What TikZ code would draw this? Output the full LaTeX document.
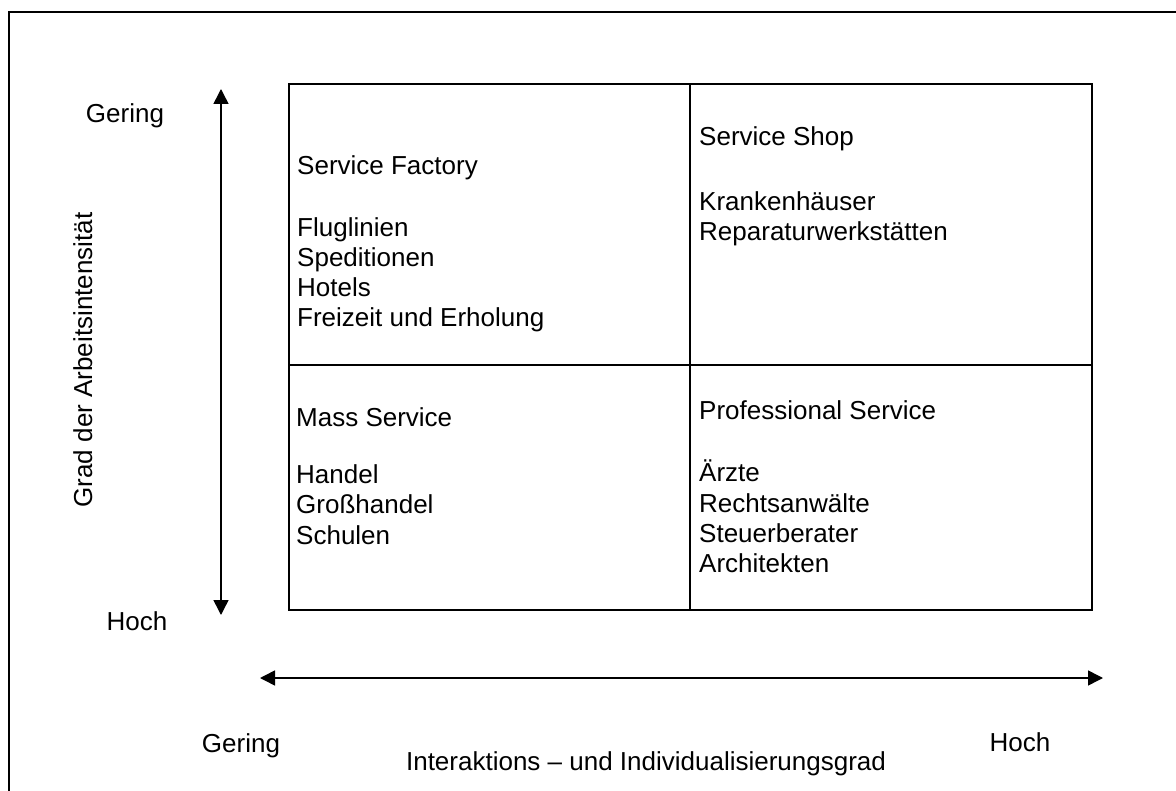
\documentclass[tikz,border=0pt]{standalone}
\usepackage{fontspec}
\setmainfont{Liberation Sans}
\usetikzlibrary{arrows.meta}

\begin{document}
\begin{tikzpicture}[x=1pt, y=-1pt,
  lbl/.style={inner sep=0pt, anchor=base, font=\fontsize{26}{30}\selectfont},
  lst/.style={inner sep=0pt, anchor=base west, font=\fontsize{26}{30}\selectfont},
  axis/.style={line width=1.5pt, {Triangle[length=15pt,width=15pt]}-{Triangle[length=15pt,width=15pt]}},
  frame/.style={line width=2pt}]

  \useasboundingbox (0, 0) rectangle (1176, 791);
  \clip (0, 0) rectangle (1176, 791);

  % outer frame, open at right and bottom
  \draw [frame] (9, 800) -- (9, 12) -- (1190, 12);

  % the four fields
  \coordinate (nw) at (289, 84);
  \coordinate (se) at (1092, 610);
  \coordinate (m) at (690, 365);
  \draw [frame] (nw) rectangle (se);
  \draw [frame] (m |- nw) -- (m |- se);
  \draw [frame] (nw |- m) -- (se |- m);

  \node [lst] (sf) at (297, 175) {Service Factory};
  \node [lst] (sf1) at (297, 237) {Fluglinien};
  \node [lst] (sf2) at (297, 267) {Speditionen};
  \node [lst] (sf3) at (297, 297) {Hotels};
  \node [lst] (sf4) at (297, 327) {Freizeit und Erholung};

  \node [lst] (ss) at (699, 146) {Service Shop};
  \node [lst] (ss1) at (699, 211) {Krankenhäuser};
  \node [lst] (ss2) at (699, 241) {Reparaturwerkstätten};

  \node [lst] (ms) at (296, 427) {Mass Service};
  \node [lst] (ms1) at (296, 484) {Handel};
  \node [lst] (ms2) at (296, 514) {Großhandel};
  \node [lst] (ms3) at (296, 544) {Schulen};

  \node [lst] (ps) at (699, 420) {Professional Service};
  \node [lst] (ps1) at (699, 482) {Ärzte};
  \node [lst] (ps2) at (699, 512) {Rechtsanwälte};
  \node [lst] (ps3) at (699, 542) {Steuerberater};
  \node [lst] (ps4) at (699, 572) {Architekten};

  % axes
  \coordinate (t) at (221, 89);
  \coordinate (u) at (221, 615);
  \coordinate (l) at (260, 678);
  \coordinate (r) at (1103, 678);
  \draw [axis] (t) -- (u);
  \draw [axis] (l) -- (r);

  \node [lbl] (g) at (125, 123) {Gering};
  \node [lbl] (h) at (137, 630) {Hoch};
  \node [lbl, rotate=90] (y) at (92, 360) {Grad der Arbeitsintensität};
  \node [lbl] (gx) at (241, 752) {Gering};
  \node [lbl] (hx) at (1020, 751) {Hoch};
  \node [lbl] (x) at (646, 770) {Interaktions – und Individualisierungsgrad};

\end{tikzpicture}
\end{document}
